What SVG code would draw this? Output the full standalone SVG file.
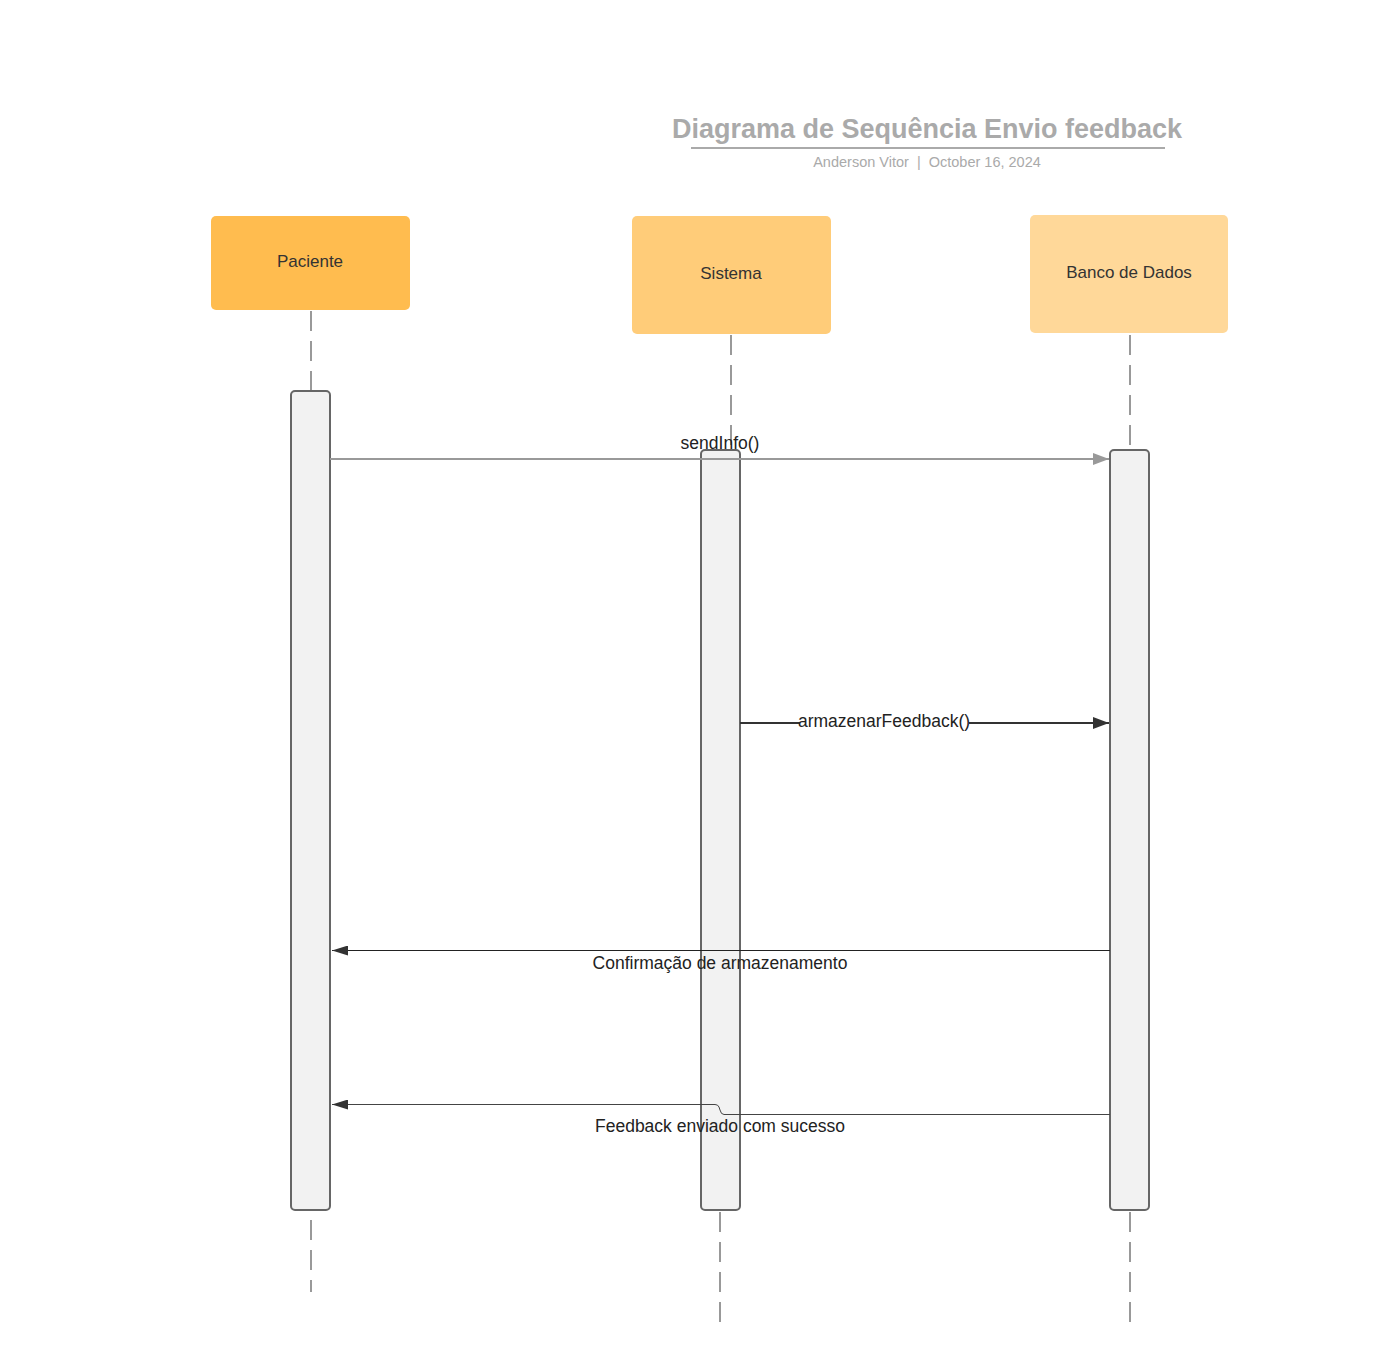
<svg xmlns="http://www.w3.org/2000/svg" width="1380" height="1367" viewBox="0 0 1380 1367">
<style>
text{font-family:"Liberation Sans",Arial,sans-serif}
.lbl{font-size:17px;fill:#333;text-anchor:middle}
.life{stroke:#999;stroke-width:2;stroke-dasharray:20 10;fill:none}
.act{fill:#f2f2f2;stroke:#666;stroke-width:2}
.msg{font-size:17.5px;fill:#222;text-anchor:middle}
</style>
<defs>
<marker id="ag" markerWidth="16" markerHeight="12" refX="16" refY="6" orient="auto" markerUnits="userSpaceOnUse"><path d="M0,0 L16,6 L0,12 Z" fill="#999"/></marker>
<marker id="ad" markerWidth="16" markerHeight="12" refX="16" refY="6" orient="auto" markerUnits="userSpaceOnUse"><path d="M0,0 L16,6 L0,12 Z" fill="#333"/></marker>
<marker id="ad2" markerWidth="16" markerHeight="10" refX="16" refY="5" orient="auto" markerUnits="userSpaceOnUse"><path d="M0,0 L16,5 L0,10 Z" fill="#333"/></marker>
</defs>
<rect width="1380" height="1367" fill="#fff"/>
<g id="title">
<text x="927" y="138" font-size="27" font-weight="bold" fill="#aaa" text-anchor="middle">Diagrama de Sequência Envio feedback</text>
<line x1="691" y1="148" x2="1165" y2="148" stroke="#aaa" stroke-width="2"/>
<text x="927" y="167" font-size="14.5" fill="#aaa" text-anchor="middle" xml:space="preserve" style="white-space:pre">Anderson Vitor  |  October 16, 2024</text>
</g>
<g id="lifelines">
<line class="life" x1="311" y1="311" x2="311" y2="391"/>
<line class="life" x1="311" y1="1220" x2="311" y2="1292"/>
<line class="life" x1="731" y1="335" x2="731" y2="450"/>
<line class="life" x1="720" y1="1212" x2="720" y2="1328"/>
<line class="life" x1="1130" y1="335" x2="1130" y2="450"/>
<line class="life" x1="1130" y1="1212" x2="1130" y2="1328"/>
</g>
<g id="paciente">
<rect x="211" y="216" width="199" height="94" rx="5" fill="#FFBC4F"/>
<text class="lbl" x="310" y="267">Paciente</text>
</g>
<g id="sistema">
<rect x="632" y="216" width="199" height="118" rx="5" fill="#FFCC79"/>
<text class="lbl" x="731" y="279">Sistema</text>
</g>
<g id="banco">
<rect x="1030" y="215" width="198" height="118" rx="5" fill="#FFD899"/>
<text class="lbl" x="1129" y="278">Banco de Dados</text>
</g>
<g id="act-paciente"><rect class="act" x="291" y="391" width="39" height="819" rx="4"/></g>
<g id="act-sistema"><rect class="act" x="701" y="450" width="39" height="760" rx="4"/></g>
<g id="act-banco"><rect class="act" x="1110" y="450" width="39" height="760" rx="4"/></g>
<g id="connectors">
<line x1="330" y1="459" x2="1109" y2="459" stroke="#999" stroke-width="2" marker-end="url(#ag)"/>
<text class="msg" x="720" y="449">sendInfo()</text>
<line x1="740" y1="723" x2="1109" y2="723" stroke="#333" stroke-width="2" marker-end="url(#ad)"/>
<rect x="800" y="712" width="169" height="20" fill="#fff"/>
<text class="msg" x="884" y="727">armazenarFeedback()</text>
<line x1="1110" y1="950.5" x2="332" y2="950.5" stroke="#222" stroke-width="1" marker-end="url(#ad2)"/>
<text class="msg" x="720" y="969">Confirmação de armazenamento</text>
<path d="M1110,1114.5 L724,1114.5 Q721,1114.5 720,1110 L719,1107 Q718,1104.5 715,1104.5 L332,1104.5" fill="none" stroke="#444" stroke-width="1" marker-end="url(#ad2)"/>
<text class="msg" x="720" y="1132">Feedback enviado com sucesso</text>
</g>
</svg>
